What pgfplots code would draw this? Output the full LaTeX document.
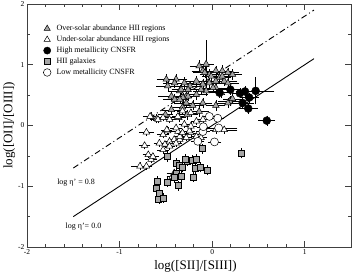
\documentclass[border=0pt]{standalone}
\usepackage{fontspec}
\setmainfont{Liberation Serif}
\usepackage{pgfplots}
\usepackage{pgfplotstable}
\pgfplotsset{compat=1.18}
\definecolor{mgray}{RGB}{165,165,165}

\pgfplotstableread{
x y ex ey
-0.495 0.76 0.08 0.05
-0.48 0.65 0.10 0.05
-0.44 0.48 0.12 0.05
-0.66 0.15 0.06 0.04
-0.60 0.11 0.05 0.04
-0.505 0.18 0.06 0.04
-0.14 0.98 0.08 0.06
-0.065 1.01 0.06 0.36
-0.10 0.90 0.10 0.05
-0.03 0.84 0.08 0.06
0.04 0.90 0.10 0.05
0.11 0.90 0.08 0.06
0.17 0.87 0.10 0.05
0.22 0.84 0.08 0.05
0.08 0.79 0.10 0.06
0.13 0.73 0.12 0.05
-0.39 0.76 0.10 0.05
-0.30 0.70 0.08 0.06
-0.24 0.65 0.10 0.05
-0.17 0.73 0.12 0.05
-0.10 0.68 0.10 0.06
-0.03 0.70 0.08 0.05
0.04 0.62 0.12 0.05
-0.35 0.57 0.10 0.06
-0.28 0.48 0.08 0.05
-0.17 0.51 0.10 0.06
-0.065 0.57 0.12 0.05
0.01 0.62 0.08 0.05
-0.405 0.43 0.10 0.05
0.04 0.33 0.08 0.06
0.19 0.40 0.10 0.05
-0.10 0.37 0.08 0.05
0.17 0.37 0.12 0.05
0.22 0.44 0.08 0.05
-0.21 0.33 0.10 0.05
-0.32 0.30 0.08 0.05
-0.14 0.23 0.08 0.05
-0.27 0.18 0.10 0.05
-0.44 0.26 0.08 0.05
-0.36 0.13 0.06 0.04
-0.335 0.59 0.08 0.05
-0.405 0.70 0.10 0.05
-0.315 0.46 0.08 0.05
-0.26 0.48 0.10 0.05
-0.12 0.59 0.08 0.05
-0.08 0.87 0.10 0.06
-0.01 0.81 0.08 0.05
0.04 0.73 0.10 0.05
0.11 0.81 0.08 0.05
0.17 0.70 0.10 0.05
0.10 0.54 0.08 0.05
-0.28 0.37 0.10 0.05
-0.35 0.43 0.08 0.05
-0.26 0.59 0.10 0.05
}\oversolar

\pgfplotstableread{
x y ex ey
-0.71 -0.11 0.06 0.03
-0.73 -0.33 0.04 0.03
-0.69 -0.48 0.04 0.03
-0.66 -0.56 0.04 0.03
-0.78 -0.67 0.07 0.03
-0.57 -0.29 0.04 0.03
-0.51 -0.31 0.04 0.03
-0.46 -0.26 0.04 0.03
-0.53 -0.15 0.04 0.03
-0.41 -0.23 0.04 0.03
-0.48 -0.09 0.04 0.03
-0.37 -0.10 0.04 0.03
-0.35 -0.23 0.04 0.03
-0.28 -0.20 0.04 0.03
-0.23 -0.12 0.04 0.03
-0.41 -0.78 0.06 0.03
-0.67 0.15 0.04 0.03
-0.585 0.10 0.04 0.03
-0.53 0.13 0.04 0.03
-0.46 0.10 0.04 0.03
-0.37 0.15 0.04 0.03
-0.32 0.24 0.04 0.03
-0.23 0.21 0.04 0.03
-0.49 -0.07 0.04 0.03
-0.39 -0.04 0.04 0.03
-0.30 0.02 0.04 0.03
-0.35 -0.18 0.04 0.03
-0.245 -0.09 0.04 0.03
-0.17 0.07 0.04 0.03
-0.10 0.10 0.04 0.03
-0.53 -0.40 0.04 0.03
-0.46 -0.34 0.04 0.03
-0.39 -0.29 0.04 0.03
0.13 -0.07 0.12 0.03
0.04 -0.07 0.04 0.03
-0.23 -0.01 0.04 0.03
-0.17 -0.18 0.04 0.03
-0.12 -0.20 0.04 0.03
-0.43 -0.84 0.04 0.03
-0.71 -0.67 0.04 0.03
-0.64 -0.51 0.04 0.03
-0.32 -0.12 0.04 0.03
}\undersolar

\pgfplotstableread{
x y ex ey
0.08 0.54 0.10 0.05
0.197 0.59 0.08 0.05
0.30 0.53 0.06 0.05
0.355 0.56 0.08 0.05
0.47 0.57 0.18 0.19
0.40 0.46 0.08 0.05
0.33 0.37 0.10 0.05
0.39 0.28 0.08 0.05
0.59 0.08 0.07 0.05
}\highmet

\pgfplotstableread{
x y ex ey
-0.03 0.15 0.05 0.03
0.06 0.12 0.05 0.03
0.07 -0.04 0.18 0.03
-0.10 -0.10 0.05 0.03
0.025 -0.27 0.05 0.03
-0.155 -0.26 0.05 0.03
-0.095 -0.02 0.05 0.03
}\lowmet

\pgfplotstableread{
x y ey
-0.605 -1.03 0.05
-0.570 -1.11 0.05
-0.577 -1.21 0.05
-0.527 -1.19 0.05
-0.597 -0.92 0.05
-0.481 -0.51 0.05
-0.484 -0.93 0.05
-0.390 -0.62 0.05
-0.360 -0.66 0.05
-0.319 -0.69 0.05
-0.272 -0.59 0.05
-0.212 -0.57 0.05
-0.175 -0.55 0.05
-0.183 -0.71 0.05
-0.132 -0.69 0.05
-0.057 -0.74 0.05
-0.201 -0.85 0.05
-0.384 -0.78 0.05
-0.330 -0.84 0.05
-0.366 -0.99 0.05
-0.104 -0.38 0.05
0.315 -0.46 0.05
-0.409 -0.86 0.05
-0.290 -0.56 0.05
}\hiigal

\begin{document}
\begin{tikzpicture}
\begin{axis}[
  at={(0,0)}, anchor=south west,
  scale only axis, width=324pt, height=243pt,
  xmin=-2, xmax=1.5, ymin=-2, ymax=2,
  xtick={-2,-1,0,1}, ytick={-2,-1,0,1,2},
  minor x tick num=4, minor y tick num=1,
  tick align=inside, major tick length=6pt, minor tick length=3pt,
  axis line style={draw=black!75, line width=0.9pt},
  every tick/.style={black!75, line width=0.6pt},
  tick label style={font=\fontsize{7.5}{8}\selectfont},
  /pgf/number format/assume math mode=true,
  xticklabel style={yshift=1pt},
  yticklabel style={xshift=1pt},
  xlabel={log([SII]/[SIII])}, ylabel={log([OII]/[OIII])},
  label style={font=\fontsize{13}{15}\selectfont},
  xlabel style={at={(axis description cs:0.52,-0.08)}, anchor=center},
  ylabel style={at={(axis description cs:-0.055,0.5)}, anchor=center},
  legend style={draw=none, fill=none, at={(axis description cs:0.05,0.92)}, anchor=north west,
    font=\fontsize{8}{9}\selectfont, row sep=0.9pt, inner sep=0pt,
    nodes={inner sep=1.5pt},
    /tikz/every odd column/.append style={column sep=4pt}},
  legend cell align=left,
  error bars/error bar style={black, line width=0.4pt},
  error bars/error mark options={black, mark size=2pt, line width=0.4pt},
]
\addlegendimage{only marks, mark=triangle*, mark size=3.6pt, mark options={fill=mgray, draw=black, line width=0.5pt}}
\addlegendentry{Over-solar abundance HII regions}
\addlegendimage{only marks, mark=triangle*, mark size=3.6pt, mark options={fill=white, draw=black, line width=0.5pt}}
\addlegendentry{Under-solar abundance HII regions}
\addlegendimage{only marks, mark=*, mark size=3.6pt, mark options={fill=black, draw=black}}
\addlegendentry{High metallicity CNSFR}
\addlegendimage{only marks, mark=square*, mark size=2.8pt, mark options={fill=mgray, draw=black, line width=0.5pt}}
\addlegendentry{HII galaxies}
\addlegendimage{only marks, mark=*, mark size=3.8pt, mark options={fill=white, draw=black, line width=0.5pt}}
\addlegendentry{Low metallicity CNSFR}

\addplot[forget plot, only marks, mark=triangle*, mark size=3.8pt, mark options={fill=mgray, draw=black, line width=0.5pt},
  error bars/.cd, x dir=both, x explicit, y dir=both, y explicit]
  table[x=x, y=y, x error=ex, y error=ey] {\oversolar};
\addplot[forget plot, only marks, mark=triangle*, mark size=3.8pt, mark options={fill=white, draw=black, line width=0.5pt},
  error bars/.cd, x dir=both, x explicit, y dir=both, y explicit]
  table[x=x, y=y, x error=ex, y error=ey] {\undersolar};
\addplot[forget plot, only marks, mark=square*, mark size=3pt, mark options={fill=mgray, draw=black, line width=0.5pt},
  error bars/.cd, y dir=both, y explicit]
  table[x=x, y=y, y error=ey] {\hiigal};
\addplot[forget plot, only marks, mark=*, mark size=4pt, mark options={fill=white, draw=black, line width=0.5pt},
  error bars/.cd, x dir=both, x explicit, y dir=both, y explicit]
  table[x=x, y=y, x error=ex, y error=ey] {\lowmet};
\addplot[forget plot, only marks, mark=*, mark size=4pt, mark options={fill=black, draw=black},
  error bars/.cd, x dir=both, x explicit, y dir=both, y explicit]
  table[x=x, y=y, x error=ex, y error=ey] {\highmet};

\addplot[forget plot, black, line width=0.9pt] coordinates {(-1.5,-1.5) (1.1,1.1)};
\addplot[forget plot, black, line width=0.9pt, dash pattern=on 6pt off 3pt on 1pt off 3pt] coordinates {(-1.5,-0.7) (1.1,1.9)};

\node[font=\fontsize{8}{9}\selectfont] at (axis cs:-1.47,-0.94) {log η' = 0.8};
\node[font=\fontsize{8}{9}\selectfont] at (axis cs:-1.39,-1.67) {log η'= 0.0};
\end{axis}
\pgfresetboundingbox
\path[use as bounding box] (-27pt,-30pt) rectangle (326pt,247pt);
\end{tikzpicture}
\end{document}
